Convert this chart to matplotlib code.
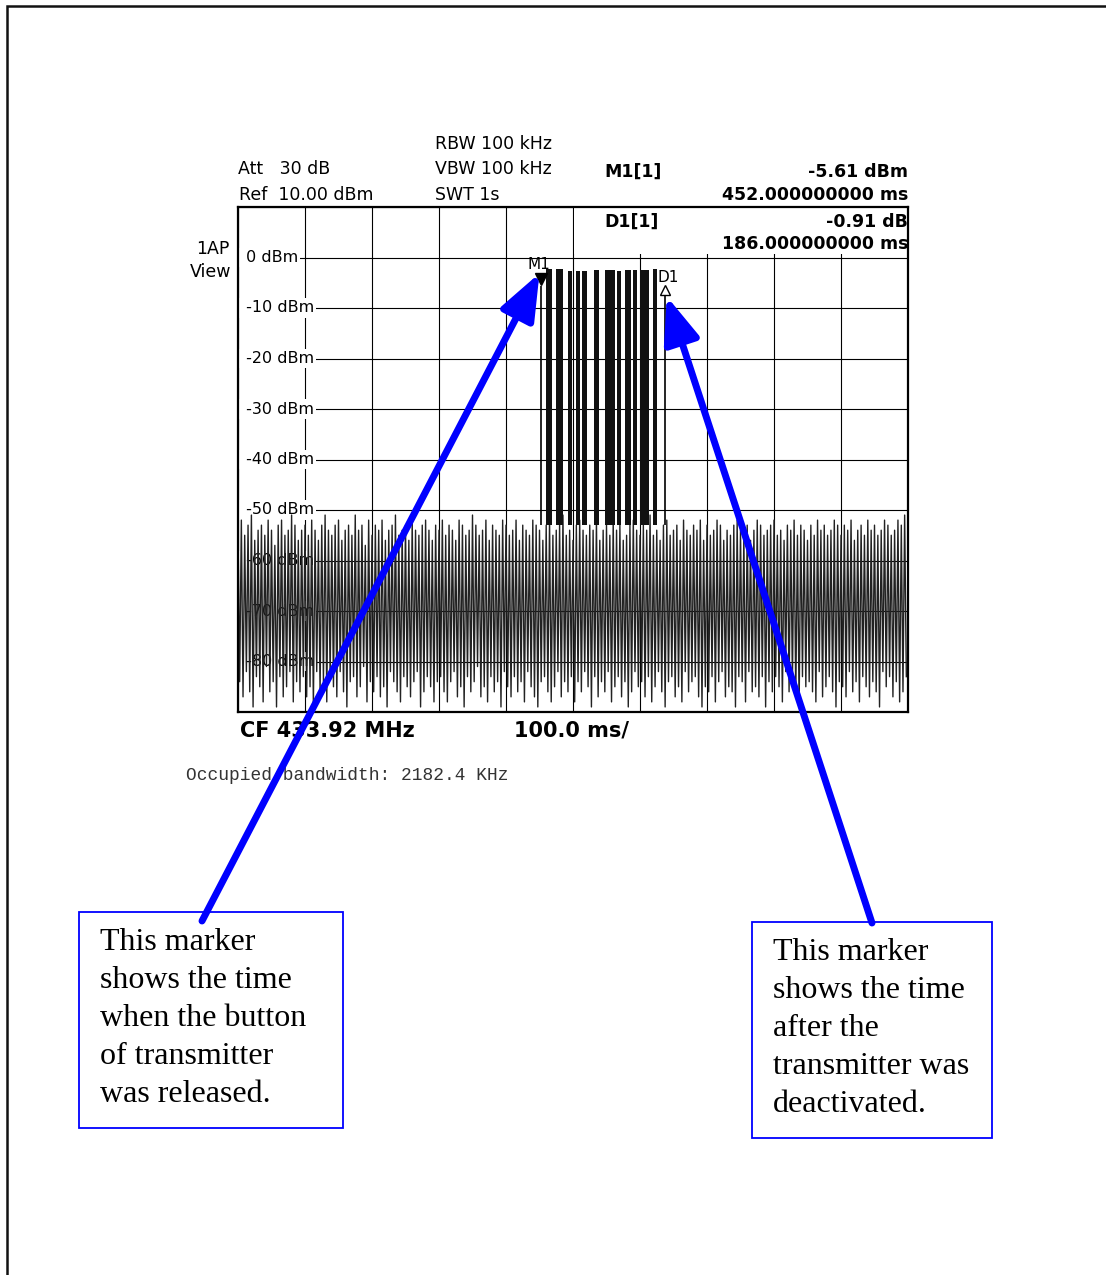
import numpy as np
import matplotlib.pyplot as plt

# sweep: 0 .. 1000 ms, level axis -90 .. 10 dBm
sweep_ms = 1000
ref_level = 10
bottom_level = -90
grid_levels = [0, -10, -20, -30, -40, -50, -60, -70, -80]

# noise floor (upper and lower swing of each sample pair)
noise_hi = [
    -54, -52, -55, -53, -51, -56, -54, -53, -55, -52, -54, -57, -53, -52, -55, -54, -51, -53, -56, -54,
    -53, -55, -52, -54, -56, -53, -51, -54, -55, -53, -52, -56, -54, -53, -55, -51, -54, -53, -57, -52,
    -55, -53, -54, -52, -56, -54, -53, -51, -55, -54, -53, -56, -52, -54, -55, -53, -52, -54, -56, -53,
    -54, -52, -55, -53, -54, -56, -52, -53, -55, -54, -51, -53, -55, -54, -52, -56, -53, -54, -55, -52,
    -53, -55, -54, -52, -56, -53, -54, -55, -52, -53, -54, -56, -53, -52, -55, -54, -53, -51, -55, -54,
    -56, -53, -52, -54, -55, -53, -54, -52, -56, -54, -53, -55, -52, -54, -53, -56, -55, -53, -52, -54,
    -55, -53, -54, -51, -55, -54, -56, -53, -52, -55, -54, -53, -56, -52, -54, -55, -53, -54, -52, -56,
    -53, -55, -54, -52, -53, -56, -54, -55, -53, -52, -54, -55, -53, -56, -54, -52, -53, -55, -54, -53,
    -52, -55, -54, -56, -53, -54, -52, -55, -53, -54, -56, -53, -55, -52, -54, -53, -55, -54, -52, -53,
    -55, -53, -54, -52, -56, -54, -53, -55, -52, -54, -53, -55, -54, -52, -53, -55, -54, -52, -53, -51,
]
noise_lo = [
    -84, -87, -82, -86, -89, -83, -85, -88, -81, -86, -84, -89, -83, -87, -85, -82, -88, -84, -86, -83,
    -87, -85, -89, -82, -86, -84, -88, -83, -85, -87, -82, -86, -89, -84, -83, -87, -85, -81, -88, -84,
    -86, -83, -87, -85, -89, -82, -84, -86, -88, -83, -85, -87, -84, -82, -89, -86, -83, -85, -88, -84,
    -83, -86, -88, -84, -82, -87, -85, -89, -83, -86, -84, -81, -87, -85, -88, -83, -86, -84, -89, -82,
    -85, -87, -83, -86, -84, -88, -82, -85, -87, -89, -84, -83, -86, -88, -85, -82, -87, -84, -86, -83,
    -88, -84, -86, -82, -85, -89, -83, -87, -84, -86, -82, -88, -85, -83, -87, -84, -89, -86, -82, -85,
    -84, -87, -83, -88, -85, -82, -86, -89, -84, -83, -87, -85, -88, -82, -86, -84, -83, -87, -89, -85,
    -86, -83, -88, -84, -82, -87, -85, -86, -89, -83, -84, -88, -82, -86, -85, -87, -83, -89, -84, -86,
    -83, -85, -88, -82, -86, -84, -87, -89, -83, -85, -84, -86, -88, -82, -87, -85, -83, -86, -89, -84,
    -85, -87, -82, -86, -84, -88, -83, -85, -87, -84, -86, -89, -82, -85, -83, -87, -84, -88, -86, -83,
]

# transmitter bursts (ms) and their peak level (dBm)
burst_start = [459, 475, 493, 504, 513, 531, 548, 566, 578, 590, 600, 619]
burst_end = [468, 485, 498, 510, 521, 539, 563, 572, 587, 596, 613, 625]
burst_top = [-2.2, -2.2, -2.6, -2.7, -2.6, -2.5, -2.5, -2.6, -2.4, -2.5, -2.4, -2.3]

# markers
m1_time = 452.0
m1_level = -5.61
d1_dtime = 186.0
d1_dlevel = -0.91

W, H = 1106, 1275
fig = plt.figure(figsize=(W / 100, H / 100), dpi=100)

ax = fig.add_axes([238 / W, (H - 712) / H, 670 / W, 505 / H])
ax.set_xlim(0, sweep_ms)
ax.set_ylim(bottom_level, ref_level)
ax.set_xticks(np.arange(0, sweep_ms + 1, 100))
ax.set_yticks(np.arange(bottom_level, ref_level + 1, 10))
ax.tick_params(length=0, labelbottom=False, labelleft=False)
ax.set_axisbelow(True)
ax.grid(True, color="black", lw=0.8)
for s in ax.spines.values():
    s.set_linewidth(1.6)
    s.set_zorder(4)

# level labels inside the screen (leading space keeps the grid line off the left edge)
for lv in grid_levels:
    ax.text(4, lv, f" {lv} dBm", fontsize=11.5, va="center", ha="left", zorder=1,
            bbox=dict(facecolor="white", edgecolor="none", pad=1.5))

# blank marker-info box in the upper right of the screen
ax.axvspan(501, sweep_ms, ymin=(0.6 - bottom_level) / 100, ymax=1, color="white", zorder=1.5, lw=0)

# trace
n = len(noise_hi) + len(noise_lo)
t = np.arange(n) * sweep_ms / n
trace = np.empty(n)
trace[0::2] = noise_hi
trace[1::2] = noise_lo
ax.plot(t, trace, color="#222222", lw=1.0, zorder=2)

bs = np.array(burst_start)
be = np.array(burst_end)
bt = np.array(burst_top)
ax.bar(bs, bt + 53, width=be - bs, bottom=-53, align="edge", color="#111111", lw=0, zorder=2.5)

d1_time = m1_time + d1_dtime
d1_level = m1_level + d1_dlevel
ax.vlines([m1_time, d1_time], -53, [m1_level, d1_level - 1], color="black", lw=1.2, zorder=2.5)
ax.plot(m1_time, m1_level + 1.3, marker="v", color="black", ms=8, zorder=3)
ax.plot(d1_time, d1_level, marker="^", mfc="white", mec="black", mew=1.0, ms=7, zorder=3)
ax.text(m1_time - 3, m1_level + 4.2, "M1", fontsize=11, ha="center", va="center", zorder=3)
ax.text(d1_time + 4, d1_level + 2.6, "D1", fontsize=11, ha="center", va="center", zorder=3)

# page overlay in pixel coordinates
page = fig.add_axes([0, 0, 1, 1], zorder=5)
page.set_xlim(0, W)
page.set_ylim(H, 0)
page.axis("off")
page.patch.set_alpha(0)

page.plot([7, 7, W], [H, 6, 6], color="#111111", lw=1.8, solid_joinstyle="miter")

hdr = dict(fontsize=12.5, va="center")
page.text(238, 169, "Att   30 dB", ha="left", **hdr)
page.text(239, 195, "Ref  10.00 dBm", ha="left", **hdr)
page.text(435, 144, "RBW 100 kHz", ha="left", **hdr)
page.text(435, 169, "VBW 100 kHz", ha="left", **hdr)
page.text(435, 195, "SWT 1s", ha="left", **hdr)
page.text(229, 249, "1AP", ha="right", **hdr)
page.text(231, 272, "View", ha="right", **hdr)

bold = dict(fontsize=12.5, va="center", fontweight="bold")
page.text(604, 172, "M1[1]", ha="left", **bold)
page.text(908, 172, f"{m1_level:.2f} dBm", ha="right", **bold)
page.text(908, 195, f"{m1_time:.9f} ms", ha="right", **bold)
page.text(604, 222, "D1[1]", ha="left", **bold)
page.text(908, 222, f"{d1_dlevel:.2f} dB", ha="right", **bold)
page.text(908, 244, f"{d1_dtime:.9f} ms", ha="right", **bold)

page.text(240, 731, "CF 433.92 MHz", ha="left", va="center", fontsize=15, fontweight="bold")
page.text(514, 731, "100.0 ms/", ha="left", va="center", fontsize=15, fontweight="bold")
page.text(186, 775, "Occupied bandwidth: 2182.4 KHz", ha="left", va="center",
          fontsize=12.9, family="Liberation Mono", color="#333333")

# annotation boxes
boxes = [
    (79, 912, 264, 216, ["This marker", "shows the time", "when the button",
                         "of transmitter", "was released."]),
    (752, 922, 240, 216, ["This marker", "shows the time", "after the",
                          "transmitter was", "deactivated."]),
]
for bx, by, bw, bh, lines in boxes:
    page.add_patch(plt.Rectangle((bx, by), bw, bh, fill=False, edgecolor="#0000ff", lw=1.3))
    for i, line in enumerate(lines):
        page.text(bx + 21, by + 31 + i * 37.8, line, fontsize=23, family="Liberation Serif",
                  ha="left", va="center")

arrow = dict(arrowstyle="-|>,head_length=1.4,head_width=0.55", color="#0000ff", lw=5,
             mutation_scale=20, shrinkA=0, shrinkB=0)
page.annotate("", xy=(m1_time - 2, m1_level + 2.5), xycoords=ax.transData,
              xytext=(202, 921), textcoords="data", arrowprops=arrow)
page.annotate("", xy=(d1_time + 2, d1_level - 1.2), xycoords=ax.transData,
              xytext=(872, 923), textcoords="data", arrowprops=arrow)

fig.savefig("out.png", dpi=100)
